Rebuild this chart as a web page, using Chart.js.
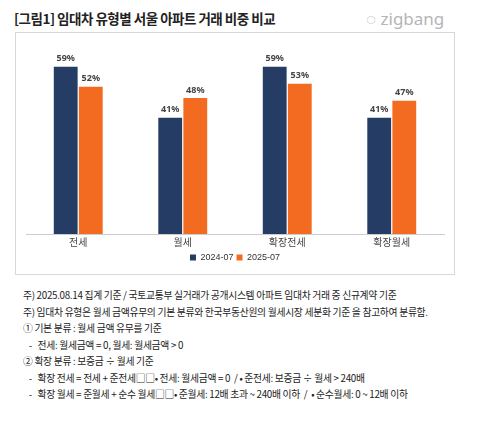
<!DOCTYPE html>
<html><head><meta charset="utf-8">
<script src="https://cdn.jsdelivr.net/npm/chart.js@4"></script>
<style>
body{margin:0;width:483px;height:422px;background:#fff;font-family:"Noto Sans CJK KR",sans-serif;position:relative;overflow:hidden}
#title{position:absolute;left:14px;top:8px;font-size:13.5px;font-weight:bold;color:#222;letter-spacing:-0.5px}
#logo{position:absolute;left:366px;top:7px;font-size:17px;color:#b5b5b5;font-family:"Noto Sans",sans-serif}
#box{position:absolute;left:15px;top:32px;width:440px;height:243px;border:1px solid #d8d8d8;box-sizing:border-box;padding:0}
#c{width:438px!important;height:241px!important}
#notes{position:absolute;left:23px;top:287px;font-size:9.8px;color:#222;line-height:16.5px;letter-spacing:-0.3px}
</style></head><body>
<div id="title">[그림1] 임대차 유형별 서울 아파트 거래 비중 비교</div>
<div id="logo">◌ zigbang</div>
<div id="box"><canvas id="c"></canvas></div>
<div id="notes">
주) 2025.08.14 집계 기준 / 국토교통부 실거래가 공개시스템 아파트 임대차 거래 중 신규계약 기준<br>
주) 임대차 유형은 월세 금액유무의 기본 분류와 한국부동산원의 월세시장 세분화 기준 을 참고하여 분류함.<br>
① 기본 분류 : 월세 금액 유무를 기준<br>
&nbsp;&nbsp;&nbsp;-&nbsp;&nbsp;&nbsp;전세: 월세금액 = 0, 월세: 월세금액 &gt; 0<br>
② 확장 분류 : 보증금 ÷ 월세 기준<br>
&nbsp;&nbsp;&nbsp;-&nbsp;&nbsp;&nbsp;확장 전세 = 전세 + 준전세□□• 전세: 월세금액 = 0 &nbsp;/ • 준전세: 보증금 ÷ 월세 &gt; 240배<br>
&nbsp;&nbsp;&nbsp;-&nbsp;&nbsp;&nbsp;확장 월세 = 준월세 + 순수 월세□□• 준월세: 12배 초과 ~ 240배 이하 &nbsp;/ &nbsp;• 순수월세: 0 ~ 12배 이하
</div>
<script>
const categories=["전세","월세","확장전세","확장월세"];
const s2024=[59,41,59,41];
const s2025=[52,48,53,47];
const labelsPlugin={id:'lbl',afterDatasetsDraw(ch){const x=ch.ctx;x.save();x.font='bold 9px "Noto Sans"';x.fillStyle='#444';x.textAlign='center';
ch.data.datasets.forEach((d,i)=>ch.getDatasetMeta(i).data.forEach((b,j)=>x.fillText(d.data[j]+'%',b.x,b.y-8)));x.restore();}};
new Chart(document.getElementById('c'),{type:'bar',
data:{labels:categories,datasets:[
{label:'2024-07',data:s2024,backgroundColor:'#253d64'},
{label:'2025-07',data:s2025,backgroundColor:'#f26b21'}]},
options:{responsive:true,maintainAspectRatio:false,animation:false,
layout:{padding:{left:10,right:10,top:14,bottom:2}},
datasets:{bar:{categoryPercentage:0.48,barPercentage:0.95}},
scales:{y:{min:0,max:66,display:false},
x:{grid:{display:false,drawTicks:false,tickLength:0},border:{color:'#ccc'},ticks:{padding:2,color:'#444',font:{size:10,family:'"Noto Sans CJK KR"'}}}},
plugins:{legend:{position:'bottom',align:'center',labels:{boxWidth:6,boxHeight:6,color:'#333',font:{size:9},padding:3}},tooltip:{enabled:false}}},
plugins:[labelsPlugin]});
</script>
</body></html>
